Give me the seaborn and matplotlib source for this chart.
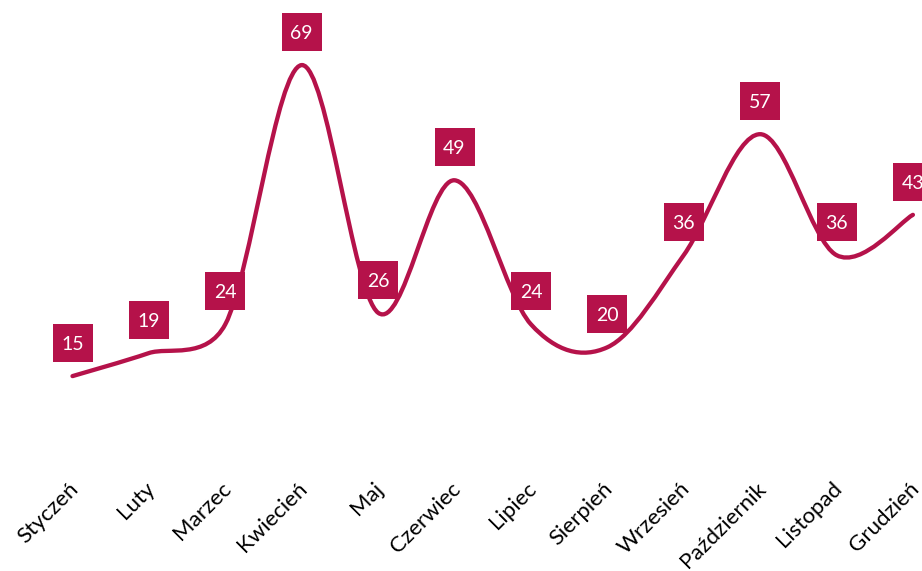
import matplotlib
matplotlib.use('Agg')
import matplotlib.pyplot as plt
import matplotlib.transforms as mtransforms
from matplotlib.path import Path
from matplotlib.patches import PathPatch
import numpy as np
import seaborn as sns

# dane
months = ['Styczeń', 'Luty', 'Marzec', 'Kwiecień', 'Maj', 'Czerwiec',
          'Lipiec', 'Sierpień', 'Wrzesień', 'Październik', 'Listopad', 'Grudzień']
values = [15, 19, 24, 69, 26, 49, 24, 20, 36, 57, 36, 43]

color = '#B5124A'


def smooth_path(ax, xs, ys):
    # wygladzanie jak w Excelu (krzywe Beziera liczone w pikselach)
    pts = ax.transData.transform(np.column_stack([xs, ys]))
    n = len(pts)
    verts = [pts[0]]
    codes = [Path.MOVETO]
    for i in range(n - 1):
        p0 = pts[max(i - 1, 0)]
        p1 = pts[i]
        p2 = pts[i + 1]
        p3 = pts[min(i + 2, n - 1)]
        d02 = np.hypot(*(p2 - p0))
        d12 = np.hypot(*(p2 - p1))
        d13 = np.hypot(*(p3 - p1))
        big0 = d02 / 6 >= d12 / 2
        big3 = d13 / 6 >= d12 / 2
        f1 = f2 = 1 / 6
        if big0 and big3:
            f1 = d12 / 2 / d02
            f2 = d12 / 2 / d13
        elif big0:
            f1 = f2 = d12 / 2 / d02
        elif big3:
            f1 = f2 = d12 / 2 / d13
        verts += [p1 + (p2 - p0) * f1, p2 - (p3 - p1) * f2, p2]
        codes += [Path.CURVE4] * 3
    verts = ax.transData.inverted().transform(np.array(verts))
    return Path(verts, codes)


def main():
    sns.set_theme(style='white')
    plt.rcParams['font.family'] = ['Lato', 'DejaVu Sans']

    fig = plt.figure(figsize=(9.22, 5.71), dpi=100)
    ax = fig.add_axes([0, 0.19, 1, 0.807])
    x = np.arange(len(values))

    # prostokaty pod etykietami (40x38 px), 33 px nad punktem
    box = Path([(-20.3, -18.9), (20.3, -18.9), (20.3, 18.9), (-20.3, 18.9), (-20.3, -18.9)],
               [Path.MOVETO, Path.LINETO, Path.LINETO, Path.LINETO, Path.CLOSEPOLY])
    up = mtransforms.ScaledTranslation(0, 0.33, fig.dpi_scale_trans)
    sns.scatterplot(x=x, y=values, ax=ax, marker=box, s=29.2 ** 2, color=color,
                    linewidth=0, transform=ax.transData + up, clip_on=False, zorder=3)

    ax.set_xlim(-0.949, 11.119)
    ax.set_ylim(0, 80)

    ax.add_patch(PathPatch(smooth_path(ax, x, values), fc='none', ec=color,
                           lw=3.1, capstyle='round', joinstyle='round', zorder=2))

    for i, v in enumerate(values):
        ax.annotate(str(v), (i, v), xytext=(0, 18.7), textcoords='offset points',
                    ha='center', va='baseline', color='white', fontsize=14,
                    annotation_clip=False, zorder=4)

    ax.set_xticks(x, months)
    ax.set_yticks([])
    ax.tick_params(axis='x', length=0, pad=11.5, labelsize=16, colors='black')
    shift = mtransforms.ScaledTranslation(-0.045, 0, fig.dpi_scale_trans)
    for lbl in ax.get_xticklabels():
        lbl.set_rotation(45)
        lbl.set_ha('right')
        lbl.set_va('top')
        lbl.set_rotation_mode('anchor')
        lbl.set_transform(lbl.get_transform() + shift)
    sns.despine(left=True, bottom=True)

    fig.savefig('out.png', dpi=100, facecolor='white')


if __name__ == '__main__':
    main()
